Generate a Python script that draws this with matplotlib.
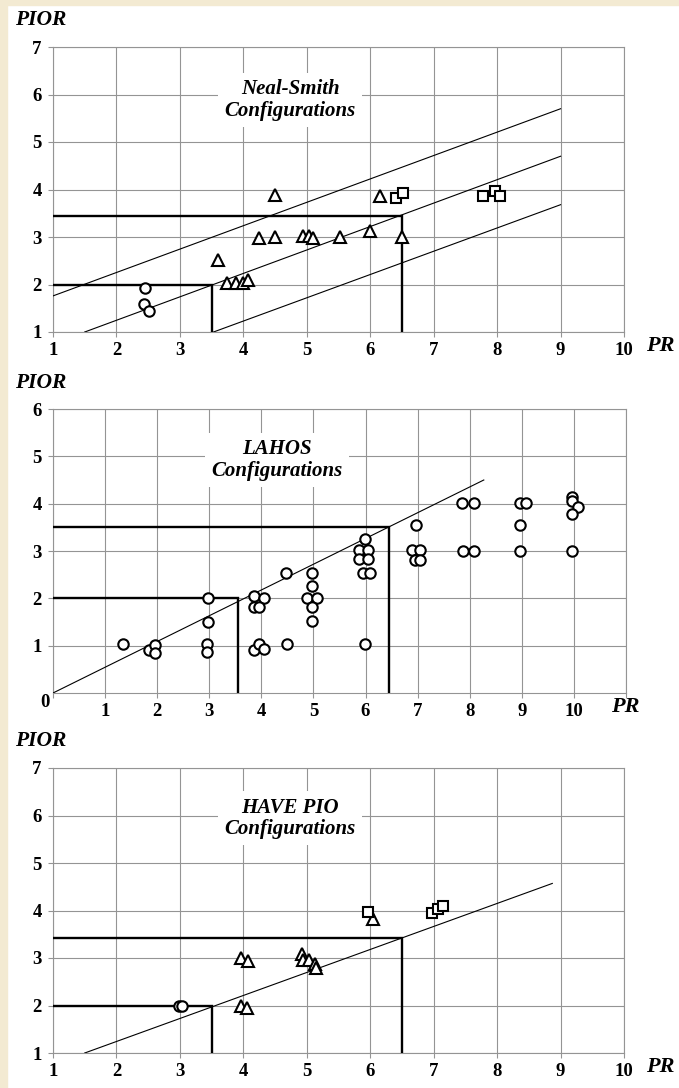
import matplotlib.pyplot as plt
from matplotlib.patches import Rectangle

# Neal-Smith configurations
ns_circle_pr = [2.45, 2.44, 2.52]
ns_circle_pior = [1.92, 1.58, 1.44]
ns_tri_pr = [4.5, 3.6, 3.75, 3.88, 4.0, 4.08, 4.25, 4.5, 4.94, 5.03, 5.1, 5.52, 6.0, 6.15, 6.5]
ns_tri_pior = [3.88, 2.52, 2.04, 2.04, 2.04, 2.1, 2.98, 3.0, 3.02, 3.02, 2.98, 3.0, 3.12, 3.86, 3.0]
ns_sq_pr = [6.41, 6.52, 7.77, 7.97, 8.05]
ns_sq_pior = [3.82, 3.93, 3.86, 3.96, 3.87]
ns_diag_pr = [[1.0, 9.0], [1.5, 9.0], [3.53, 9.0]]
ns_diag_pior = [[1.76, 5.7], [1.0, 4.7], [1.0, 3.68]]
ns_bound_pr = [3.5, 6.5]
ns_bound_pior = [2.0, 3.45]

# LAHOS configurations
lahos_pr = [1.34, 1.84, 1.96, 1.96, 2.97, 2.97, 2.95, 2.95, 3.86, 4.05, 3.85, 3.96,
            3.86, 3.96, 4.06, 4.47, 4.49, 4.97, 4.97, 4.87, 5.06, 4.97, 4.97,
            5.98, 5.88, 6.05, 5.87, 6.05, 5.95, 6.08, 5.98,
            6.97, 6.89, 7.05, 6.94, 7.05, 7.85, 8.08, 7.87, 8.08,
            8.96, 9.08, 8.97, 8.97, 9.97, 9.96, 10.07, 9.96, 9.97]
lahos_pior = [1.03, 0.91, 1.02, 0.84, 2.01, 1.51, 1.03, 0.87, 2.04, 2.01, 1.82, 1.82,
              0.91, 1.03, 0.93, 2.53, 1.03, 2.53, 2.26, 2.01, 2.01, 1.82, 1.52,
              3.26, 3.02, 3.02, 2.84, 2.84, 2.53, 2.54, 1.03,
              3.54, 3.02, 3.02, 2.82, 2.82, 4.01, 4.01, 3.01, 3.01,
              4.01, 4.01, 3.54, 3.01, 4.15, 4.06, 3.92, 3.79, 3.01]
lahos_diag_pr = [0.0, 8.27]
lahos_diag_pior = [0.0, 4.5]
lahos_bound_pr = [3.55, 6.45]
lahos_bound_pior = [2.0, 3.5]

# HAVE PIO configurations
hp_circle_pr = [2.99, 3.03]
hp_circle_pior = [1.99, 1.99]
hp_tri_pr = [3.97, 4.07, 3.97, 4.06, 4.92, 4.94, 5.03, 5.13, 5.15, 6.04]
hp_tri_pior = [2.99, 2.93, 2.0, 1.94, 3.08, 2.96, 2.96, 2.87, 2.8, 3.83]
hp_sq_pr = [5.97, 6.98, 7.07, 7.15]
hp_sq_pior = [3.97, 3.94, 4.03, 4.1]
hp_diag_pr = [1.5, 8.87]
hp_diag_pior = [1.0, 4.57]
hp_bound_pr = [3.5, 6.5]
hp_bound_pior = [2.0, 3.43]

plt.rcParams["font.family"] = ["Liberation Serif", "DejaVu Serif"]
GRID = "#949494"
mk = dict(linestyle="none", mfc="white", mec="black", mew=1.5, zorder=5)

fig = plt.figure(figsize=(6.79, 10.88), dpi=100)
fig.patches.append(Rectangle((0, 0), 7 / 679, 1, transform=fig.transFigure,
                             color="#f3ead2", zorder=-1))
fig.patches.append(Rectangle((0, 1 - 5 / 1088), 1, 5 / 1088, transform=fig.transFigure,
                             color="#f3ead2", zorder=-1))


def setup(ax, xlim, ylim, xticks, xlabels, yticks, pr_x):
    ax.set_xlim(*xlim)
    ax.set_ylim(*ylim)
    ax.set_xticks(xticks)
    ax.set_xticklabels(xlabels)
    ax.set_yticks(yticks)
    ax.set_yticklabels([str(t) for t in yticks])
    ax.grid(True, color=GRID, lw=0.8, zorder=0)
    ax.set_axisbelow(True)
    for s in ax.spines.values():
        s.set_color(GRID)
        s.set_linewidth(0.8)
    ax.tick_params(axis="both", direction="out", length=3.6, width=0.8, color=GRID,
                   labelsize=13.5)
    ax.tick_params(axis="x", pad=3.5)
    ax.tick_params(axis="y", pad=4.5)
    for lab in ax.get_xticklabels() + ax.get_yticklabels():
        lab.set_fontweight("bold")
    ax.text(-0.022, 1.093, "PIOR", transform=ax.transAxes, ha="center", va="center",
            fontsize=15.5, fontweight="bold", fontstyle="italic")
    ax.text(pr_x, -0.048, "PR", transform=ax.transAxes, ha="center", va="center",
            fontsize=16, fontweight="bold", fontstyle="italic")


def title(ax, x, y, name):
    ax.text(x, y, name + "\nConfigurations", ha="center", va="center",
            multialignment="center", fontsize=15, fontweight="bold",
            fontstyle="italic", linespacing=1.1, zorder=3,
            bbox=dict(boxstyle="square,pad=0.3", fc="white", ec="none"))


def bounds(ax, prs, piors, x0, y0):
    for pr, pior in zip(prs, piors):
        ax.plot([x0, pr, pr], [pior, pior, y0], color="black", lw=1.7, zorder=4,
                solid_joinstyle="miter")


# Neal-Smith panel
ax1 = fig.add_axes([53 / 679, 1 - 332 / 1088, 571 / 679, 285 / 1088])
setup(ax1, (1, 10), (1, 7), range(1, 11), [str(i) for i in range(1, 11)],
      range(1, 8), 1.063)
for xs, ys in zip(ns_diag_pr, ns_diag_pior):
    ax1.plot(xs, ys, color="black", lw=0.8, zorder=4)
bounds(ax1, ns_bound_pr, ns_bound_pior, 1, 1)
ax1.plot(ns_circle_pr, ns_circle_pior, marker="o", ms=7.5, **mk)
ax1.plot(ns_tri_pr, ns_tri_pior, marker="^", ms=8, **mk)
ax1.plot(ns_sq_pr, ns_sq_pior, marker="s", ms=7.5, **mk)
title(ax1, 4.74, 5.88, "Neal-Smith")

# LAHOS panel
ax2 = fig.add_axes([53 / 679, 1 - 693 / 1088, 573 / 679, 284 / 1088])
setup(ax2, (0, 11), (0, 6), range(0, 12), [""] + [str(i) for i in range(1, 11)] + [""],
      range(1, 7), 0.998)
ax2.text(-0.014, -0.035, "0", transform=ax2.transAxes, ha="center", va="center",
         fontsize=13.5, fontweight="bold")
ax2.plot(lahos_diag_pr, lahos_diag_pior, color="black", lw=0.8, zorder=4)
bounds(ax2, lahos_bound_pr, lahos_bound_pior, 0, 0)
ax2.plot(lahos_pr, lahos_pior, marker="o", ms=7.5, **mk)
title(ax2, 4.30, 4.92, "LAHOS")

# HAVE PIO panel
ax3 = fig.add_axes([53 / 679, 1 - 1053 / 1088, 571 / 679, 285 / 1088])
setup(ax3, (1, 10), (1, 7), range(1, 11), [str(i) for i in range(1, 11)],
      range(1, 8), 1.063)
ax3.plot(hp_diag_pr, hp_diag_pior, color="black", lw=0.8, zorder=4)
bounds(ax3, hp_bound_pr, hp_bound_pior, 1, 1)
ax3.plot(hp_circle_pr, hp_circle_pior, marker="o", ms=7.5, **mk)
ax3.plot(hp_tri_pr, hp_tri_pior, marker="^", ms=8, **mk)
ax3.plot(hp_sq_pr, hp_sq_pior, marker="s", ms=7.5, **mk)
title(ax3, 4.74, 5.94, "HAVE PIO")

fig.savefig("out.png", dpi=100)
